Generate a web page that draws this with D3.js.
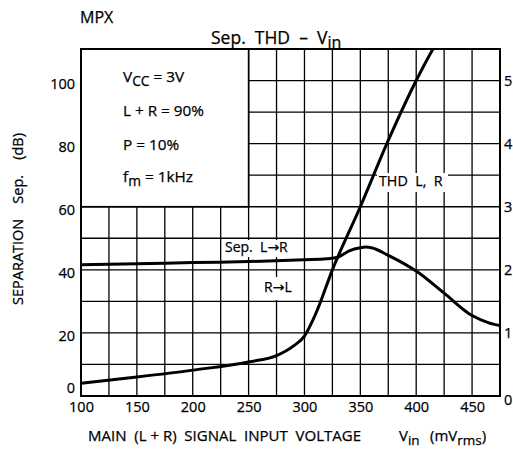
<!DOCTYPE html>
<html>
<head>
<meta charset="utf-8">
<script src="https://cdn.jsdelivr.net/npm/d3@7"></script>
<style>
body { margin: 0; background: #fff; }
text { font-family: "Open Sans", "Noto Sans", sans-serif; fill: #000; white-space: pre; stroke: #000; stroke-width: 0.25px; }
.arr { font-family: "DejaVu Sans", sans-serif; }
</style>
</head>
<body>
<svg width="513" height="457"></svg>
<script>
// separation curve, dB on left axis
var sepVin = [100, 150, 200, 250, 300, 320, 330, 340, 350, 355, 360, 375, 400, 425, 450, 465, 475];
var sepDb = [41.6, 41.9, 42.3, 42.6, 43.2, 43.5, 44.0, 46.0, 47.0, 47.2, 47.0, 44.6, 39.6, 32.6, 25.5, 23.2, 22.3];
// THD curve, % on right axis
var thdVin = [100, 150, 200, 250, 275, 290, 300, 310, 325, 350, 375, 400, 415, 425];
var thdPct = [0.2, 0.3, 0.41, 0.54, 0.64, 0.79, 0.95, 1.3, 2.0, 3.0, 4.05, 5.0, 5.5, 5.8];

var xTicks = [100, 150, 200, 250, 300, 350, 400, 450];
var leftTicks = [0, 20, 40, 60, 80, 100];
var rightTicks = [0, 1, 2, 3, 4, 5];
var conditions = ['V|CC| = 3V', 'L + R = 90%', 'P = 10%', 'f|m| = 1kHz'];

var svg = d3.select('svg');
var x = d3.scaleLinear().domain([100, 475]).range([81, 500]);
var yL = d3.scaleLinear().domain([0, 110]).range([396, 49]);
var yR = d3.scaleLinear().domain([0, 5.5]).range([396, 49]);

// grid
var grid = svg.append('g').attr('stroke', '#000').attr('stroke-width', 1.3);
grid.selectAll('.v').data(d3.range(100, 476, 25)).enter().append('line')
    .attr('x1', d => x(d)).attr('x2', d => x(d)).attr('y1', yL(0)).attr('y2', yL(110));
grid.selectAll('.h').data(d3.range(0, 111, 10)).enter().append('line')
    .attr('x1', x(100)).attr('x2', x(475)).attr('y1', d => yL(d)).attr('y2', d => yL(d));

// conditions box (blanks the grid)
svg.append('rect').attr('x', x(100)).attr('y', yL(110)).attr('width', x(250) - x(100)).attr('height', yL(60) - yL(110))
    .attr('fill', '#fff').attr('stroke', '#000').attr('stroke-width', 1.6);

// frame
svg.append('rect').attr('x', x(100)).attr('y', yL(110)).attr('width', x(475) - x(100)).attr('height', yL(0) - yL(110))
    .attr('fill', 'none').attr('stroke', '#000').attr('stroke-width', 2);

// label backgrounds
svg.append('rect').attr('x', 223).attr('y', 240).attr('width', 78).attr('height', 17).attr('fill', '#fff');
svg.append('rect').attr('x', 258).attr('y', 277).attr('width', 42).attr('height', 23).attr('fill', '#fff');
svg.append('rect').attr('x', 377).attr('y', 173).attr('width', 71).attr('height', 19).attr('fill', '#fff');

svg.append('clipPath').attr('id', 'clip').append('rect')
    .attr('x', x(100)).attr('y', yL(110)).attr('width', x(475) - x(100)).attr('height', yL(0) - yL(110));

var sepLine = d3.line().x(d => x(d[0])).y(d => yL(d[1])).curve(d3.curveMonotoneX);
var thdLine = d3.line().x(d => x(d[0])).y(d => yR(d[1])).curve(d3.curveMonotoneX);

svg.append('path').datum(d3.zip(sepVin, sepDb)).attr('d', sepLine)
    .attr('fill', 'none').attr('stroke', '#000').attr('stroke-width', 3).attr('clip-path', 'url(#clip)');
svg.append('path').datum(d3.zip(thdVin, thdPct)).attr('d', thdLine)
    .attr('fill', 'none').attr('stroke', '#000').attr('stroke-width', 3).attr('clip-path', 'url(#clip)');

// axes
var axL = svg.append('g').attr('transform', 'translate(' + x(100) + ',0)')
    .call(d3.axisLeft(yL).tickValues(leftTicks).tickSize(0).tickPadding(6));
var axR = svg.append('g').attr('transform', 'translate(' + x(475) + ',0)')
    .call(d3.axisRight(yR).tickValues(rightTicks).tickFormat(d3.format('d')).tickSize(0).tickPadding(4));
var axB = svg.append('g').attr('transform', 'translate(0,' + yL(0) + ')')
    .call(d3.axisBottom(x).tickValues(xTicks).tickSize(0).tickPadding(6));
[axL, axR, axB].forEach(function (a) {
    a.select('.domain').remove();
    a.selectAll('text').style('font-family', '"Open Sans", "Noto Sans", sans-serif').style('font-size', '14.5px');
});
axL.selectAll('text').attr('dy', '0.55em');
axL.selectAll('text').filter(d => d === 0).attr('dy', '-0.25em');
axR.selectAll('text').filter(d => d === 0).attr('dy', '0.6em');

function sub(t, str, size) {
    // "a|b|c" -> b is subscript
    var parts = str.split('|');
    parts.forEach(function (p, i) {
        if (!p) return;
        var ts = t.append('tspan').text(p);
        if (i % 2 == 1) ts.attr('dy', 4).style('font-size', (size - 1.5) + 'px');
        else if (i > 0) ts.attr('dy', -4);
    });
}

function arrowLabel(xp, yp, a, b) {
    var t = svg.append('text').attr('x', xp).attr('y', yp).style('font-size', '14px');
    t.append('tspan').text(a);
    t.append('tspan').attr('class', 'arr').text('\u2192');
    t.append('tspan').text(b);
}

svg.append('text').attr('x', 80).attr('y', 23).style('font-size', '16px').text('MPX');
sub(svg.append('text').attr('x', 211).attr('y', 44).style('font-size', '17.5px'), 'Sep.  THD  \u2013  V|in|', 17.5);

var ly = [82, 116, 150, 182];
conditions.forEach(function (c, i) {
    sub(svg.append('text').attr('x', 123).attr('y', ly[i]).style('font-size', '15.3px'), c, 15.3);
});

arrowLabel(225, 252, 'Sep.  L', 'R');
arrowLabel(264, 292, 'R', 'L');
svg.append('text').attr('x', 379).attr('y', 186).style('font-size', '14.3px').text('THD  L,  R');

svg.append('text').attr('x', 88).attr('y', 441).style('font-size', '15px').text('MAIN  (L + R)  SIGNAL  INPUT  VOLTAGE');
sub(svg.append('text').attr('x', 399).attr('y', 441).style('font-size', '15px'), 'V|in|', 15);
sub(svg.append('text').attr('x', 430).attr('y', 441).style('font-size', '15px'), '(mV|rms|)', 15);

svg.append('text').attr('transform', 'translate(23,219) rotate(-90)').attr('text-anchor', 'middle')
    .style('font-size', '14.5px').text('SEPARATION    Sep.    (dB)');
</script>
</body>
</html>
